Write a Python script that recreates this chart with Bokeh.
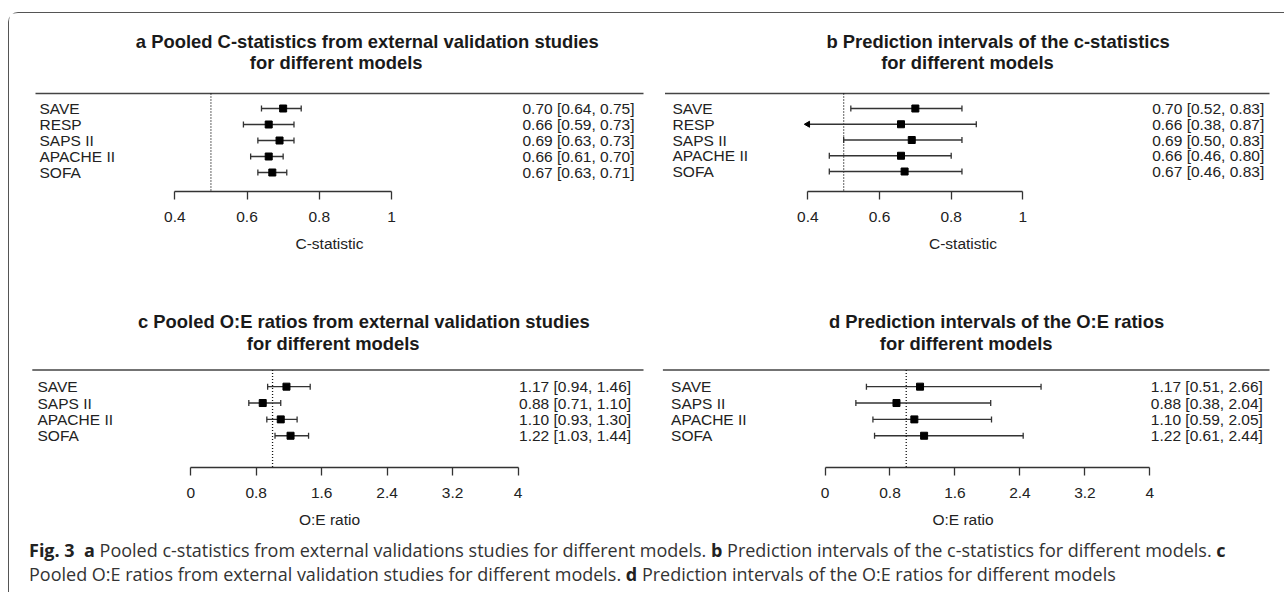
import math
from bokeh.plotting import figure
from bokeh.models import LinearAxis, FixedTicker, Range1d, Div
from bokeh.layouts import column, row
from bokeh.embed import file_html
from bokeh.resources import INLINE
from bokeh.core.properties import value

# ---------------- data ----------------
models_c = ["SAVE", "RESP", "SAPS II", "APACHE II", "SOFA"]
cstat_est = [0.70, 0.66, 0.69, 0.66, 0.67]
cstat_ci_lo = [0.64, 0.59, 0.63, 0.61, 0.63]
cstat_ci_hi = [0.75, 0.73, 0.73, 0.70, 0.71]
cstat_pi_lo = [0.52, 0.38, 0.50, 0.46, 0.46]
cstat_pi_hi = [0.83, 0.87, 0.83, 0.80, 0.83]

models_oe = ["SAVE", "SAPS II", "APACHE II", "SOFA"]
oe_est = [1.17, 0.88, 1.10, 1.22]
oe_ci_lo = [0.94, 0.71, 0.93, 1.03]
oe_ci_hi = [1.46, 1.10, 1.30, 1.44]
oe_pi_lo = [0.51, 0.38, 0.59, 0.61]
oe_pi_hi = [2.66, 2.04, 2.05, 2.44]

cstat_ticks = [0.4, 0.6, 0.8, 1.0]
cstat_tick_labels = ["0.4", "0.6", "0.8", "1"]
oe_ticks = [0.0, 0.8, 1.6, 2.4, 3.2, 4.0]
oe_tick_labels = ["0", "0.8", "1.6", "2.4", "3.2", "4"]

cstat_ref = 0.5
oe_ref = 1.0

titles = [
    ("a  Pooled C-statistics from external validation studies", "for different models"),
    ("b  Prediction intervals of the c-statistics", "for different models"),
    ("c  Pooled O:E ratios from external validation studies", "for different models"),
    ("d  Prediction intervals of the O:E ratios", "for different models"),
]
xlabels = ["C-statistic", "C-statistic", "O:E ratio", "O:E ratio"]

# ---------------- layout geometry (page pixels) ----------------
GEOM = [
    dict(left=9, top=13, width=640, height=280, axis=(174.3, 391.0), rows=(108, 172),
         rule_y=93, rule_x=(35, 643), axis_y=191, label_x=39, value_x=634,
         t1=(369.4, 40.7), t2=(335.7, 62)),
    dict(left=649, top=13, width=627, height=280, axis=(807.3, 1022.4), rows=(108, 171),
         rule_y=93, rule_x=(664.5, 1269), axis_y=191, label_x=672, value_x=1263.7,
         t1=(1000.2, 40.5), t2=(967, 62)),
    dict(left=9, top=293, width=640, height=243, axis=(190.2, 517.6), rows=(386, 435),
         rule_y=369.3, rule_x=(31.8, 643), axis_y=466.7, label_x=37, value_x=630.6,
         t1=(365.9, 320.7), t2=(332.7, 342.7)),
    dict(left=649, top=293, width=627, height=243, axis=(824.5, 1149.4), rows=(386, 435),
         rule_y=369.3, rule_x=(662.4, 1269), axis_y=466.7, label_x=670.6, value_x=1262.4,
         t1=(998.6, 320.7), t2=(965.7, 342.7)),
]

FONT = value("Liberation Sans")
INK = "#222222"
LINE = "#333333"


def panel(g, models, est, lo, hi, ticks, tick_labels, ref, xlabel, title):
    n = len(models)
    v0, v1 = ticks[0], ticks[-1]
    p0, p1 = g["axis"]
    kx = (p1 - p0) / (v1 - v0)

    def X(px):
        return v0 + (px - p0) / kx

    r0, r1 = g["rows"]
    ky = (r1 - r0) / (n - 1)

    def Y(py):
        return n - (py - r0) / ky

    p = figure(width=g["width"], height=g["height"],
               x_range=Range1d(X(g["left"]), X(g["left"] + g["width"])),
               y_range=Range1d(Y(g["axis_y"]), Y(g["top"])),
               x_axis_location=None, y_axis_location=None,
               toolbar_location=None, output_backend="svg",
               min_border_left=0, min_border_right=0, min_border_top=0,
               min_border_bottom=int(round(g["top"] + g["height"] - g["axis_y"])),
               outline_line_color=None, background_fill_color="white",
               border_fill_color="white")
    p.grid.visible = False

    ax = LinearAxis(ticker=FixedTicker(ticks=ticks), bounds=(v0, v1), axis_label=xlabel,
                    major_label_overrides={t: l for t, l in zip(ticks, tick_labels)},
                    major_tick_in=0, major_tick_out=8, minor_tick_in=0, minor_tick_out=0,
                    axis_line_color=LINE, axis_line_width=1.3,
                    major_tick_line_color=LINE, major_tick_line_width=1.3,
                    major_label_standoff=12, axis_label_standoff=10,
                    major_label_text_font="Liberation Sans", major_label_text_font_size="15.5px",
                    major_label_text_color=INK,
                    axis_label_text_font="Liberation Sans", axis_label_text_font_size="15.5px",
                    axis_label_text_font_style="normal", axis_label_text_color=INK)
    p.add_layout(ax, "below")

    # top rule
    p.segment(x0=[X(g["rule_x"][0])], y0=[Y(g["rule_y"])], x1=[X(g["rule_x"][1])],
              y1=[Y(g["rule_y"])], line_color="#444444", line_width=1.6)
    # reference line
    p.segment(x0=[ref], y0=[Y(g["rule_y"])], x1=[ref], y1=[Y(g["axis_y"])],
              line_color="#111111", line_width=1.3, line_dash="1 2")

    ys = [n - i for i in range(n)]
    lo_c = [max(a, v0) for a in lo]
    hi_c = [min(b, v1) for b in hi]
    p.segment(x0=lo_c, y0=ys, x1=hi_c, y1=ys, line_color=LINE, line_width=1.3)
    # caps for unclipped ends
    cap_x = [a for a in lo if a >= v0] + [b for b in hi if b <= v1]
    cap_y = [y for a, y in zip(lo, ys) if a >= v0] + [y for b, y in zip(hi, ys) if b <= v1]
    p.scatter(cap_x, cap_y, marker="dash", angle=math.pi / 2, size=6,
              line_color=LINE, line_width=1.3)
    # arrows for clipped ends
    arr_x = [v0 for a in lo if a < v0]
    arr_y = [y for a, y in zip(lo, ys) if a < v0]
    if arr_x:
        p.scatter(arr_x, arr_y, marker="triangle", angle=math.pi / 2, size=6,
                  fill_color="black", line_color="black")
    p.scatter(est, ys, marker="square", size=7, fill_color="black", line_color="black")

    p.text(x=[X(g["label_x"])] * n, y=ys, text=models, text_align="left",
           text_baseline="middle", text_font=FONT, text_font_size="15.5px", text_color=INK)
    vals = [f"{e:.2f} [{a:.2f}, {b:.2f}]" for e, a, b in zip(est, lo, hi)]
    p.text(x=[X(g["value_x"])] * n, y=ys, text=vals, text_align="right",
           text_baseline="middle", text_font=FONT, text_font_size="15.5px", text_color=INK)

    for (cx, cy), t in zip((g["t1"], g["t2"]), title):
        p.text(x=[X(cx)], y=[Y(cy)], text=[t], text_align="center", text_baseline="middle",
               text_font=FONT, text_font_size="18.4px", text_font_style="bold",
               text_color="#1a1a1a")
    return p


pa = panel(GEOM[0], models_c, cstat_est, cstat_ci_lo, cstat_ci_hi, cstat_ticks,
           cstat_tick_labels, cstat_ref, xlabels[0], titles[0])
pb = panel(GEOM[1], models_c, cstat_est, cstat_pi_lo, cstat_pi_hi, cstat_ticks,
           cstat_tick_labels, cstat_ref, xlabels[1], titles[1])
pc = panel(GEOM[2], models_oe, oe_est, oe_ci_lo, oe_ci_hi, oe_ticks,
           oe_tick_labels, oe_ref, xlabels[2], titles[2])
pd = panel(GEOM[3], models_oe, oe_est, oe_pi_lo, oe_pi_hi, oe_ticks,
           oe_tick_labels, oe_ref, xlabels[3], titles[3])

caption_html = (
    "<div style=\"margin:-3px 0 0 15px; white-space:nowrap; font-family:'Open Sans'; "
    "font-size:18px; line-height:24px; color:#333333\">"
    "<b style='color:#222'>Fig. 3</b>&nbsp; <b style='color:#222'>a</b> Pooled c-statistics from external "
    "validations studies for different models. <b style='color:#222'>b</b> Prediction intervals of the "
    "c-statistics for different models. <b style='color:#222'>c</b><br>"
    "Pooled O:E ratios from external validation studies for different models. "
    "<b style='color:#222'>d</b> Prediction intervals of the O:E ratios for different models"
    "</div>"
)
cap = Div(text=caption_html, width=1267, height=48)

layout = column(row(pa, pb), row(pc, pd), cap, margin=(12, 0, 0, 8),
                styles={"border-top": "1.3px solid #555555",
                        "border-left": "1.3px solid #555555",
                        "border-top-left-radius": "10px"})

open("out.html", "w").write(file_html(layout, INLINE))
